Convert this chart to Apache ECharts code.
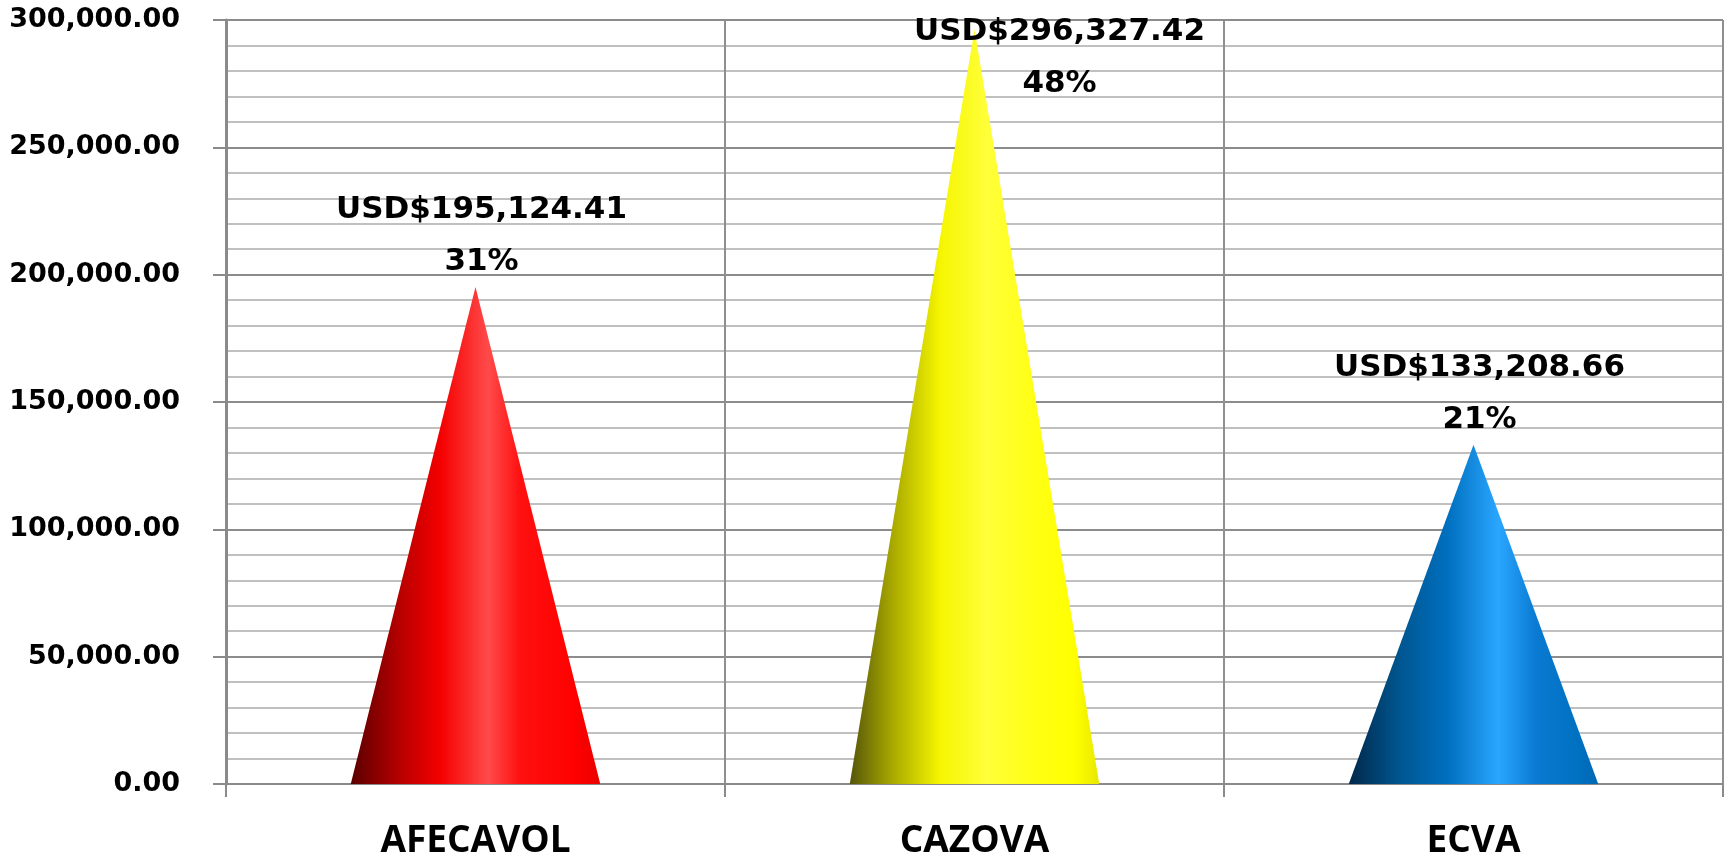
<!DOCTYPE html>
<html>
<head>
<meta charset="utf-8">
<script src="https://cdn.jsdelivr.net/npm/echarts@6/dist/echarts.min.js"></script>
<style>
html,body{margin:0;padding:0;background:#fff;}
#chart{width:1729px;height:856px;}
</style>
</head>
<body>
<div id="chart"></div>
<script>
const categories = ['AFECAVOL', 'CAZOVA', 'ECVA'];
const amounts = [195124.41, 296327.42, 133208.66];
const shares = ['31%', '48%', '21%'];
const yTickValues = [0, 50000, 100000, 150000, 200000, 250000, 300000];
const yTickLabels = ['0.00', '50,000.00', '100,000.00', '150,000.00', '200,000.00', '250,000.00', '300,000.00'];

const gradients = [
  [[0, '#5a0000'], [0.2, '#b80000'], [0.36, '#f50000'], [0.55, '#ff4a4a'], [0.68, '#ff1010'], [0.9, '#ff0000'], [1, '#ea0000']],
  [[0, '#55550a'], [0.17, '#a8a800'], [0.36, '#f5f500'], [0.55, '#ffff3a'], [0.72, '#ffff18'], [0.9, '#ffff00'], [1, '#e8e800']],
  [[0, '#00284a'], [0.2, '#00558f'], [0.4, '#0070c0'], [0.6, '#2aa6ff'], [0.75, '#0a7ad2'], [0.92, '#0070c0'], [1, '#0068b4']]
];

function fmtUSD(v) {
  return 'USD$' + v.toLocaleString('en-US', {minimumFractionDigits: 2, maximumFractionDigits: 2});
}

const chart = echarts.init(document.getElementById('chart'), null, {renderer: 'canvas'});

const seriesData = amounts.map((v, i) => ({
  value: v,
  itemStyle: {
    color: {type: 'linear', x: 0, y: 0, x2: 1, y2: 0,
      colorStops: gradients[i].map(s => ({offset: s[0], color: s[1]}))}
  },
  label: categories[i] === 'CAZOVA' ? {offset: [85, 81]} : {offset: [6, 1]}
}));

const option = {
  backgroundColor: '#ffffff',
  animation: false,
  grid: {left: 226, right: 6, top: 20, bottom: 72, containLabel: false, outerBoundsMode: 'none'},
  xAxis: {
    type: 'category',
    data: categories,
    boundaryGap: true,
    axisLine: {show: true, lineStyle: {color: '#8a8a8a', width: 2}},
    axisTick: {show: true, length: 13, lineStyle: {color: '#8a8a8a', width: 2}},
    splitLine: {show: true, lineStyle: {color: '#8f8f8f', width: 2}},
    axisLabel: {
      color: '#000', fontFamily: 'Open Sans', fontWeight: 'bold', fontSize: 37,
      margin: 39
    }
  },
  yAxis: {
    type: 'value',
    min: 0, max: 300000, interval: 50000,
    axisLine: {show: true, lineStyle: {color: '#8a8a8a', width: 3}},
    axisTick: {show: true, length: 13, lineStyle: {color: '#8a8a8a', width: 2}},
    splitLine: {show: true, lineStyle: {color: '#8c8c8c', width: 2}},
    minorTick: {show: false, splitNumber: 5},
    minorSplitLine: {show: true, lineStyle: {color: '#c0c0c0', width: 2}},
    axisLabel: {
      color: '#000', fontFamily: 'DejaVu Sans', fontWeight: 'bold', fontSize: 27,
      margin: 46,
      padding: [5, 0, 0, 0],
      formatter: function (v) {
        const idx = yTickValues.indexOf(v);
        return idx >= 0 ? yTickLabels[idx] : '';
      }
    }
  },
  series: [{
    type: 'pictorialBar',
    symbol: 'triangle',
    barWidth: '50%',
    symbolSize: ['100%', '100%'],
    symbolPosition: 'start',
    data: seriesData,
    label: {
      show: true,
      position: 'top',
      distance: 0,
      color: '#000',
      fontFamily: 'DejaVu Sans',
      fontWeight: 'bold',
      fontSize: 31,
      lineHeight: 52,
      formatter: function (p) {
        return fmtUSD(amounts[p.dataIndex]) + '\n' + shares[p.dataIndex];
      }
    },
    z: 3
  }]
};

chart.setOption(option);
</script>
</body>
</html>
